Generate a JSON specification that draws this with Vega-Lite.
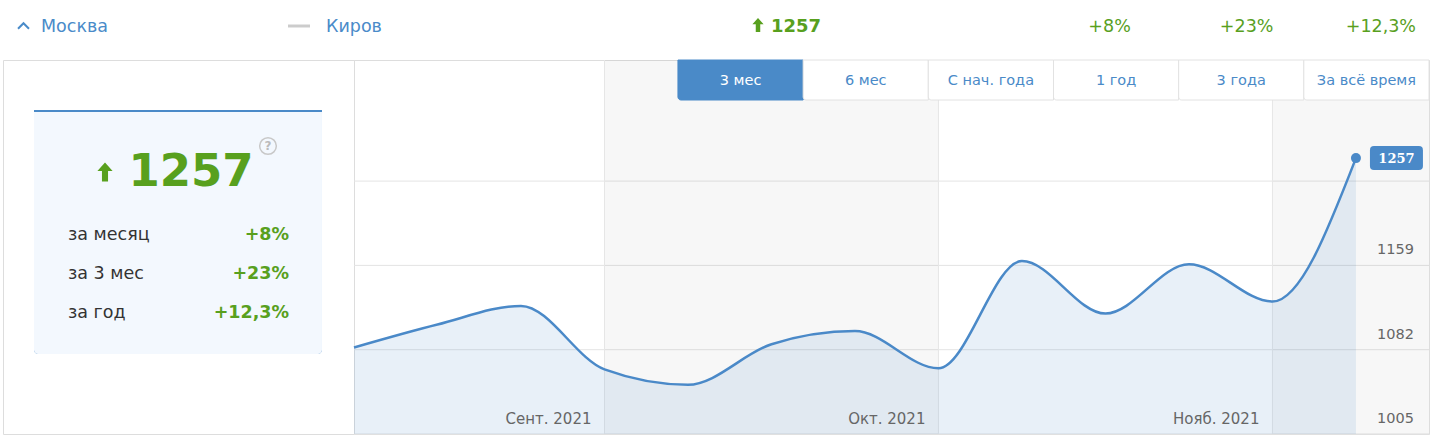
{
  "$schema": "https://vega.github.io/schema/vega-lite/v6.json",
  "background": "#ffffff",
  "padding": {"left": 2, "top": 0, "right": 2, "bottom": 1},
  "spacing": 0,
  "bounds": "flush",
  "config": {"view": {"stroke": "#dddddd"}, "font": "DejaVu Sans"},
  "datasets": {
    "summary": [{"region": "Москва", "compare": "Киров", "value": 1257}],
    "changes": [
      {"key": "month", "period": "за месяц", "change": "+8%"},
      {"key": "quarter", "period": "за 3 мес", "change": "+23%"},
      {"key": "year", "period": "за год", "change": "+12,3%"}
    ],
    "series": [
      {"date": "2021-09-06", "value": 1084},
      {"date": "2021-09-13", "value": 1105},
      {"date": "2021-09-20", "value": 1122},
      {"date": "2021-09-27", "value": 1064},
      {"date": "2021-10-04", "value": 1050},
      {"date": "2021-10-11", "value": 1087},
      {"date": "2021-10-18", "value": 1099},
      {"date": "2021-10-25", "value": 1065},
      {"date": "2021-11-01", "value": 1163},
      {"date": "2021-11-08", "value": 1115},
      {"date": "2021-11-15", "value": 1160},
      {"date": "2021-11-22", "value": 1126},
      {"date": "2021-11-29", "value": 1257}
    ],
    "months": [
      {"month": "Сент. 2021", "start": "2021-09-06", "end": "2021-09-27", "partial": false},
      {"month": "Окт. 2021", "start": "2021-09-27", "end": "2021-10-25", "partial": false},
      {"month": "Нояб. 2021", "start": "2021-10-25", "end": "2021-11-22", "partial": false},
      {"month": "Дек. 2021", "start": "2021-11-22", "end": "2021-12-31", "partial": true}
    ],
    "grid": [
      {"level": 1005, "labelled": true},
      {"level": 1082, "labelled": true},
      {"level": 1159, "labelled": true},
      {"level": 1236, "labelled": false}
    ],
    "periods": [
      {"period": "3 мес", "active": true},
      {"period": "6 мес", "active": false},
      {"period": "С нач. года", "active": false},
      {"period": "1 год", "active": false},
      {"period": "3 года", "active": false},
      {"period": "За всё время", "active": false}
    ]
  },
  "vconcat": [
    {
      "width": 1426,
      "height": 60,
      "view": {"stroke": null},
      "layer": [
        {
          "data": {"name": "summary"},
          "mark": {"type": "point", "shape": "M-1,0.5L0,-0.5L1,0.5", "filled": false, "stroke": "#4a8bc9", "strokeWidth": 2, "size": 121, "opacity": 1, "xOffset": -50.8, "yOffset": -4},
          "encoding": {"x": {"datum": "region", "type": "nominal", "scale": {"type": "band", "domain": ["region", "c1", "compare", "c3", "c4", "value", "c6", "month", "quarter", "year"], "paddingInner": 0, "paddingOuter": 0}, "axis": null}}
        },
        {
          "data": {"name": "summary"},
          "mark": {"type": "text", "align": "left", "baseline": "middle", "dx": -33.3, "dy": -3, "fontSize": 17.5, "fill": "#4a8bc9"},
          "encoding": {"x": {"datum": "region", "type": "nominal", "axis": null}, "text": {"field": "region"}}
        },
        {
          "data": {"name": "summary"},
          "mark": {"type": "point", "shape": "M-1,0L1,0", "filled": false, "stroke": "#cccccc", "strokeWidth": 3, "size": 484, "opacity": 1, "xOffset": -60.5, "yOffset": -4},
          "encoding": {"x": {"datum": "compare", "type": "nominal", "axis": null}}
        },
        {
          "data": {"name": "summary"},
          "mark": {"type": "text", "align": "left", "baseline": "middle", "dx": -33.5, "dy": -3, "fontSize": 17.5, "fill": "#4a8bc9"},
          "encoding": {"x": {"datum": "compare", "type": "nominal", "axis": null}, "text": {"field": "compare"}}
        },
        {
          "data": {"name": "summary"},
          "mark": {"type": "point", "shape": "M0,-1L0.8,-0.1L0.32,-0.1L0.32,1L-0.32,1L-0.32,-0.1L-0.8,-0.1Z", "filled": true, "color": "#58a01e", "size": 196, "opacity": 1, "xOffset": -29.3, "yOffset": -5},
          "encoding": {"x": {"datum": "value", "type": "nominal", "axis": null}}
        },
        {
          "data": {"name": "summary"},
          "mark": {"type": "text", "align": "left", "baseline": "middle", "dx": -16.3, "dy": -3, "fontSize": 18, "fontWeight": "bold", "fill": "#58a01e"},
          "encoding": {"x": {"datum": "value", "type": "nominal", "axis": null}, "text": {"field": "value", "type": "quantitative", "format": "d"}}
        },
        {
          "data": {"name": "changes"},
          "mark": {"type": "text", "align": "right", "baseline": "middle", "dx": 58.3, "dy": -3, "fontSize": 17.5, "fill": "#58a01e"},
          "encoding": {"x": {"field": "key", "type": "nominal", "axis": null}, "text": {"field": "change"}}
        }
      ]
    },
    {
      "hconcat": [
        {
          "width": 351,
          "height": 374,
          "layer": [
            {
              "data": {"name": "summary"},
              "mark": {"type": "rect", "color": "#4a8ac8", "cornerRadiusBottomLeft": 4, "cornerRadiusBottomRight": 4},
              "encoding": {
                "x": {"datum": "card", "type": "nominal", "scale": {"type": "band", "domain": ["card"], "paddingInner": 0, "paddingOuter": 0.1094, "align": 0.492}, "axis": null},
                "y": {"datum": "card", "type": "nominal", "scale": {"type": "band", "domain": ["card"], "paddingInner": 0, "paddingOuter": 0.2664, "align": 0.3846}, "axis": null}
              }
            },
            {
              "data": {"name": "summary"},
              "mark": {"type": "rect", "color": "#f3f8fe", "cornerRadiusBottomLeft": 4, "cornerRadiusBottomRight": 4},
              "encoding": {
                "x": {"datum": "card", "type": "nominal", "scale": {"type": "band", "domain": ["card"], "paddingInner": 0, "paddingOuter": 0.1094, "align": 0.492}, "axis": null},
                "y": {"datum": "card", "type": "nominal", "scale": {"type": "band", "domain": ["card"], "paddingInner": 0, "paddingOuter": 0.2727, "align": 0.3939}, "axis": null}
              }
            },
            {
              "data": {"name": "summary"},
              "mark": {"type": "point", "shape": "M0,-1L0.8,-0.1L0.32,-0.1L0.32,1L-0.32,1L-0.32,-0.1L-0.8,-0.1Z", "filled": true, "color": "#58a01e", "size": 361, "opacity": 1, "xOffset": -73.5, "yOffset": -75},
              "encoding": {}
            },
            {
              "data": {"name": "summary"},
              "mark": {"type": "point", "shape": "circle", "filled": false, "stroke": "#c8c8c8", "strokeWidth": 1.5, "size": 278, "opacity": 1, "xOffset": 89.5, "yOffset": -101},
              "encoding": {}
            },
            {
              "data": {"name": "summary"},
              "mark": {"type": "text", "text": "?", "align": "center", "baseline": "middle", "dx": 89.5, "dy": -101, "fontSize": 12, "fontWeight": "bold", "fill": "#bbbbbb"},
              "encoding": {}
            },
            {
              "data": {"name": "summary"},
              "mark": {"type": "text", "align": "center", "baseline": "middle", "dx": 12.5, "dy": -75, "fontSize": 45, "fontWeight": "bold", "fill": "#58a01e"},
              "encoding": {"text": {"field": "value", "type": "quantitative", "format": "d"}}
            },
            {
              "data": {"name": "changes"},
              "mark": {"type": "text", "align": "left", "baseline": "middle", "fontSize": 17.5, "fill": "#333333"},
              "encoding": {
                "x": {"datum": "label", "type": "nominal", "scale": {"type": "point", "domain": ["label", "value"], "padding": 0.294, "align": 0.5}, "axis": null},
                "y": {"field": "period", "type": "nominal", "scale": {"type": "point", "domain": ["t0", "t1", "t2", "t3", "за месяц", "за 3 мес", "за год", "t7", "t8", "t9"], "padding": 0.295, "align": 0.826}, "axis": null},
                "text": {"field": "period"}
              }
            },
            {
              "data": {"name": "changes"},
              "mark": {"type": "text", "align": "right", "baseline": "middle", "fontSize": 17.5, "fontWeight": "bold", "fill": "#58a01e"},
              "encoding": {
                "x": {"datum": "value", "type": "nominal", "scale": {"type": "point", "domain": ["label", "value"], "padding": 0.294, "align": 0.5}, "axis": null},
                "y": {"field": "period", "type": "nominal", "scale": {"type": "point", "domain": ["t0", "t1", "t2", "t3", "за месяц", "за 3 мес", "за год", "t7", "t8", "t9"], "padding": 0.295, "align": 0.826}, "axis": null},
                "text": {"field": "change"}
              }
            }
          ],
          "resolve": {"scale": {"x": "independent", "y": "independent"}}
        },
        {
          "width": 1075,
          "height": 374,
          "layer": [
            {
              "layer": [
                {
                  "data": {"name": "grid"},
                  "mark": {"type": "rule", "color": "#e4e4e4", "strokeWidth": 1},
                  "encoding": {
                    "y": {"field": "level", "type": "quantitative", "scale": {"domain": [1005, 1346.6], "nice": false, "zero": false}, "axis": null}
                  }
                },
                {
                  "data": {"name": "months"},
                  "mark": {"type": "rect", "clip": true},
                  "encoding": {
                    "x": {"field": "start", "type": "temporal", "scale": {"domain": [{"year": 2021, "month": 9, "date": 6, "utc": true}, {"year": 2021, "month": 12, "date": 5, "hours": 3, "utc": true}], "nice": false}, "axis": null},
                    "x2": {"field": "end"},
                    "color": {"field": "month", "type": "nominal", "scale": {"domain": ["Сент. 2021", "Окт. 2021", "Нояб. 2021", "Дек. 2021"], "range": ["rgba(0,0,0,0)", "rgba(0,0,0,0.03)", "rgba(0,0,0,0)", "rgba(0,0,0,0.03)"]}, "legend": null}
                  }
                },
                {
                  "data": {"name": "months"},
                  "transform": [{"filter": "!datum.partial"}],
                  "mark": {"type": "rule", "color": "#e6e6e6", "strokeWidth": 1},
                  "encoding": {
                    "x": {"field": "end", "type": "temporal", "scale": {"domain": [{"year": 2021, "month": 9, "date": 6, "utc": true}, {"year": 2021, "month": 12, "date": 5, "hours": 3, "utc": true}], "nice": false}, "axis": null}
                  }
                },
                {
                  "data": {"name": "grid"},
                  "transform": [{"filter": "datum.labelled"}],
                  "mark": {"type": "text", "align": "right", "baseline": "alphabetic", "dx": -15, "dy": -11, "fontSize": 14.5, "fill": "#666666"},
                  "encoding": {
                    "x": {"datum": {"year": 2021, "month": 12, "date": 5, "hours": 3, "utc": true}, "type": "temporal", "scale": {"domain": [{"year": 2021, "month": 9, "date": 6, "utc": true}, {"year": 2021, "month": 12, "date": 5, "hours": 3, "utc": true}], "nice": false}, "axis": null},
                    "y": {"field": "level", "type": "quantitative", "scale": {"domain": [1005, 1346.6], "nice": false, "zero": false}, "axis": null},
                    "text": {"field": "level", "type": "quantitative", "format": "d"}
                  }
                },
                {
                  "data": {"name": "series"},
                  "mark": {"type": "area", "interpolate": "monotone", "color": "#3f82c5", "opacity": 0.12},
                  "encoding": {
                    "x": {"field": "date", "type": "temporal", "scale": {"domain": [{"year": 2021, "month": 9, "date": 6, "utc": true}, {"year": 2021, "month": 12, "date": 5, "hours": 3, "utc": true}], "nice": false}, "axis": null},
                    "y": {"field": "value", "type": "quantitative", "scale": {"domain": [1005, 1346.6], "nice": false, "zero": false}, "axis": null},
                    "y2": {"datum": 1005}
                  }
                },
                {
                  "data": {"name": "series"},
                  "mark": {"type": "line", "interpolate": "monotone", "color": "#4a89c8", "strokeWidth": 2.5},
                  "encoding": {
                    "x": {"field": "date", "type": "temporal", "scale": {"domain": [{"year": 2021, "month": 9, "date": 6, "utc": true}, {"year": 2021, "month": 12, "date": 5, "hours": 3, "utc": true}], "nice": false}, "axis": null},
                    "y": {"field": "value", "type": "quantitative", "scale": {"domain": [1005, 1346.6], "nice": false, "zero": false}, "axis": null}
                  }
                },
                {
                  "data": {"name": "series"},
                  "transform": [
                    {"window": [{"op": "row_number", "as": "rank"}], "sort": [{"field": "date", "order": "descending"}]},
                    {"filter": "datum.rank === 1"}
                  ],
                  "mark": {"type": "point", "filled": true, "color": "#4a89c8", "size": 100, "opacity": 1},
                  "encoding": {
                    "x": {"field": "date", "type": "temporal", "scale": {"domain": [{"year": 2021, "month": 9, "date": 6, "utc": true}, {"year": 2021, "month": 12, "date": 5, "hours": 3, "utc": true}], "nice": false}, "axis": null},
                    "y": {"field": "value", "type": "quantitative", "scale": {"domain": [1005, 1346.6], "nice": false, "zero": false}, "axis": null}
                  }
                },
                {
                  "data": {"name": "series"},
                  "transform": [
                    {"window": [{"op": "row_number", "as": "rank"}], "sort": [{"field": "date", "order": "descending"}]},
                    {"filter": "datum.rank === 1"}
                  ],
                  "mark": {"type": "point", "shape": "M-0.85,-0.453L0.85,-0.453Q1,-0.453 1,-0.3L1,0.3Q1,0.453 0.85,0.453L-0.85,0.453Q-1,0.453 -1,0.3L-1,-0.3Q-1,-0.453 -0.85,-0.453Z", "filled": true, "color": "#4a89c8", "size": 2809, "opacity": 1, "xOffset": 40.5},
                  "encoding": {
                    "x": {"field": "date", "type": "temporal", "scale": {"domain": [{"year": 2021, "month": 9, "date": 6, "utc": true}, {"year": 2021, "month": 12, "date": 5, "hours": 3, "utc": true}], "nice": false}, "axis": null},
                    "y": {"field": "value", "type": "quantitative", "scale": {"domain": [1005, 1346.6], "nice": false, "zero": false}, "axis": null}
                  }
                },
                {
                  "data": {"name": "series"},
                  "transform": [
                    {"window": [{"op": "row_number", "as": "rank"}], "sort": [{"field": "date", "order": "descending"}]},
                    {"filter": "datum.rank === 1"}
                  ],
                  "mark": {"type": "text", "align": "center", "baseline": "middle", "dx": 40.5, "dy": 1, "font": "DejaVu Serif", "fontSize": 13, "fontWeight": "bold", "fill": "#ffffff"},
                  "encoding": {
                    "x": {"field": "date", "type": "temporal", "scale": {"domain": [{"year": 2021, "month": 9, "date": 6, "utc": true}, {"year": 2021, "month": 12, "date": 5, "hours": 3, "utc": true}], "nice": false}, "axis": null},
                    "y": {"field": "value", "type": "quantitative", "scale": {"domain": [1005, 1346.6], "nice": false, "zero": false}, "axis": null},
                    "text": {"field": "value", "type": "quantitative", "format": "d"}
                  }
                },
                {
                  "data": {"name": "months"},
                  "transform": [{"filter": "!datum.partial"}],
                  "mark": {"type": "text", "align": "right", "baseline": "alphabetic", "dx": -13, "dy": -10, "fontSize": 15, "fill": "#666666"},
                  "encoding": {
                    "x": {"field": "end", "type": "temporal", "scale": {"domain": [{"year": 2021, "month": 9, "date": 6, "utc": true}, {"year": 2021, "month": 12, "date": 5, "hours": 3, "utc": true}], "nice": false}, "axis": null},
                    "y": {"datum": 1005, "type": "quantitative", "scale": {"domain": [1005, 1346.6], "nice": false, "zero": false}, "axis": null},
                    "text": {"field": "month"}
                  }
                }
              ]
            },
            {
              "data": {"name": "periods"},
              "layer": [
                {
                  "mark": {"type": "rect", "strokeWidth": 1, "cornerRadiusBottomLeft": 3},
                  "encoding": {
                    "x": {"field": "period", "type": "nominal", "sort": null, "scale": {"type": "band", "domain": ["g1", "g2", "3 мес", "6 мес", "С нач. года", "1 год", "3 года", "За всё время"], "paddingInner": 0, "paddingOuter": 0.294, "align": 1}, "axis": null},
                    "y": {"datum": "tabs", "type": "nominal", "scale": {"type": "band", "domain": ["tabs", "b1", "b2", "b3", "b4", "b5", "b6", "b7", "b8"], "paddingInner": 0, "paddingOuter": 0.175, "align": 0}, "axis": null},
                    "fill": {"condition": {"test": "datum.active", "value": "#4a8ac8"}, "value": "#ffffff"},
                    "stroke": {"condition": {"test": "datum.active", "value": "#4a8ac8"}, "value": "#e2e2e2"}
                  }
                },
                {
                  "mark": {"type": "text", "align": "center", "baseline": "middle", "dy": 1, "fontSize": 14.5},
                  "encoding": {
                    "x": {"field": "period", "type": "nominal", "sort": null, "axis": null},
                    "y": {"datum": "tabs", "type": "nominal", "axis": null},
                    "text": {"field": "period"},
                    "fill": {"condition": {"test": "datum.active", "value": "#ffffff"}, "value": "#4a8ac8"}
                  }
                }
              ]
            }
          ],
          "resolve": {"scale": {"x": "independent", "y": "independent"}}
        }
      ],
      "spacing": 0,
      "bounds": "flush"
    }
  ]
}
